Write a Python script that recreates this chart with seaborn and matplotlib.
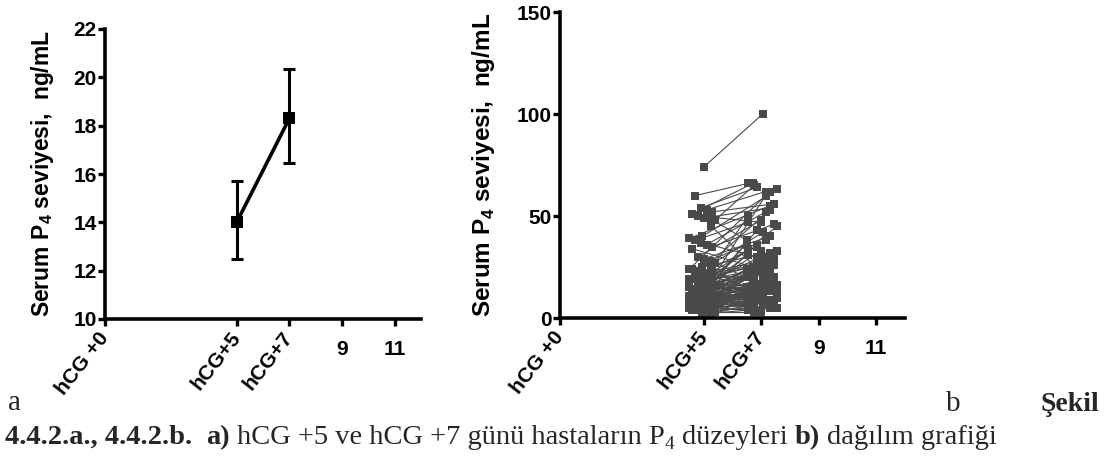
import matplotlib
matplotlib.use("Agg")
import matplotlib.pyplot as plt
import matplotlib.transforms as mtransforms
import numpy as np
import pandas as pd
import seaborn as sns

# ---------------- data ----------------
days = [5, 7]
tick_pos = [0, 5, 7, 9, 11]
tick_labels = ["hCG +0", "hCG+5", "hCG+7", "9", "11"]

# panel a: mean with error bars
mean_a = [14.0, 18.3]
err_low_a = [12.5, 16.45]
err_high_a = [15.7, 20.35]

# panel b: individual patients (hCG+5 -> hCG+7)
p4_day5 = [74, 60, 54, 53, 52, 51, 50, 49, 49, 48, 45, 40, 39, 38, 37, 36, 35, 34, 30, 29,
           28, 27, 26, 25, 24, 23, 22, 21, 20, 19,
           18, 17, 17, 16, 16, 15, 15, 14, 14, 13, 13, 12, 12, 12, 11, 11, 11, 10, 10, 10,
           10, 9, 9, 9, 9, 8, 8, 8, 8, 8,
           7, 7, 7, 7, 7, 6, 6, 6, 6, 6, 5, 5, 5, 5, 5, 4, 4, 4, 4, 3,
           3, 3, 2, 2, 19, 20, 21, 22, 23, 24,
           13, 14, 15, 16, 17, 18, 11, 12, 10, 9, 8, 7, 6, 5, 4, 3, 2, 16, 18, 13,
           11, 15, 12, 9, 6, 20, 14, 7, 5, 10]
p4_day7 = [100, 66, 64, 62, 56, 66, 47, 54, 38, 65, 22, 63, 55, 47, 30, 52, 46, 25, 48, 40,
           36, 18, 42, 33, 62, 15, 35, 38, 28, 12,
           24, 32, 10, 20, 27, 14, 22, 34, 9, 19, 26, 17, 23, 8, 15, 21, 30, 12, 18, 6,
           25, 14, 20, 11, 16, 13, 22, 7, 19, 10,
           15, 12, 24, 9, 17, 11, 14, 5, 20, 8, 13, 10, 16, 4, 12, 9, 18, 7, 11, 6,
           14, 3, 8, 5, 21, 13, 26, 17, 29, 11,
           33, 16, 37, 10, 22, 14, 28, 31, 36, 26, 29, 21, 23, 19, 15, 10, 12, 45, 53, 50,
           43, 60, 9, 5, 3, 27, 24, 13, 7, 16]

ylabel_text = r"Serum P$_\mathsf{4}$ seviyesi,  ng/mL"

# ---------------- style ----------------
sns.set_theme(style="ticks")
plt.rcParams["font.family"] = ["Liberation Sans", "DejaVu Sans"]
plt.rcParams["mathtext.fontset"] = "custom"
plt.rcParams["mathtext.sf"] = "Liberation Sans:bold"
plt.rcParams["mathtext.rm"] = "Liberation Serif"

W, H = 1118, 475
fig = plt.figure(figsize=(W / 100, H / 100), dpi=100)
fig.patch.set_facecolor("white")

ax_a = fig.add_axes([105 / W, 1 - 319 / H, 316 / W, 290 / H])
ax_b = fig.add_axes([560 / W, 1 - 318 / H, 345 / W, 306 / H])

# ---------------- panel a ----------------
df_a = pd.DataFrame({"day": days, "mean": mean_a})
sns.lineplot(data=df_a, x="day", y="mean", ax=ax_a, color="black", lw=2.6,
             marker="s", markersize=8, markeredgewidth=0, legend=False)
yerr = np.array([[m - l for m, l in zip(mean_a, err_low_a)],
                 [h - m for h, m in zip(err_high_a, mean_a)]])
ax_a.errorbar(days, mean_a, yerr=yerr, fmt="none", ecolor="black",
              elinewidth=2.2, capsize=4.5, capthick=2.2, zorder=3)
ax_a.set_xlim(0, 12)
ax_a.set_ylim(10, 22)
ax_a.set_yticks(range(10, 23, 2))

# ---------------- panel b ----------------
off5 = [-0.5, -0.3, -0.1, 0.1, 0.3, -0.4, -0.2, 0.0, 0.2, 0.4, 0.25, -0.05]
off7 = [0.3, -0.45, -0.15, 0.15, 0.45, -0.3, 0.0, 0.3, -0.5, -0.25, 0.05, 0.55]
rows = []
for i, (v5, v7) in enumerate(zip(p4_day5, p4_day7)):
    o5 = 0.0 if i == 0 else off5[i % len(off5)]
    o7 = 0.05 if i == 0 else off7[i % len(off7)]
    rows.append({"patient": i, "x": days[0] + o5, "value": v5})
    rows.append({"patient": i, "x": days[1] + o7, "value": v7})
df_b = pd.DataFrame(rows)
sns.lineplot(data=df_b, x="x", y="value", units="patient", estimator=None,
             sort=False, ax=ax_b, color="#4a4a4a", lw=0.8, marker="s",
             markersize=6, markeredgewidth=0, legend=False)
ax_b.set_xlim(0, 12)
ax_b.set_ylim(0, 150)
ax_b.set_yticks([0, 50, 100, 150])

# ---------------- common axis styling ----------------
for ax, ylab_size, ylab_x in [(ax_a, 16.5, -0.155), (ax_b, 17.5, -0.182)]:
    sns.despine(ax=ax)
    ax.set_facecolor("white")
    for s in ("left", "bottom"):
        ax.spines[s].set_linewidth(2.6)
        ax.spines[s].set_color("black")
    ax.tick_params(axis="both", which="major", width=2.4, length=5,
                   color="black", direction="out", labelcolor="black")
    ax.tick_params(axis="y", pad=1)
    ax.tick_params(axis="x", pad=6)
    ax.set_xticks(tick_pos)
    ax.set_xticklabels(tick_labels)
    for lbl in ax.get_yticklabels():
        lbl.set_fontsize(15)
        lbl.set_fontweight("bold")
    for lbl in ax.get_xticklabels():
        lbl.set_fontsize(15)
        lbl.set_fontweight("bold")
        if lbl.get_text() in ("9", "11"):
            lbl.set_rotation(0)
            lbl.set_ha("center")
            lbl.set_va("top")
            lbl.set_transform(lbl.get_transform() +
                              mtransforms.ScaledTranslation(0, -6 / 100, fig.dpi_scale_trans))
        else:
            lbl.set_rotation(52)
            lbl.set_rotation_mode("anchor")
            lbl.set_ha("right")
            lbl.set_va("center")
    ax.set_xlabel("")
    ax.set_ylabel(ylabel_text, fontsize=ylab_size, fontweight="bold", color="black")
    ax.yaxis.set_label_coords(ylab_x, 0.5)

# ---------------- captions ----------------
serif = "Liberation Serif"
fig.canvas.draw()
renderer = fig.canvas.get_renderer()


def text_width(s, size, weight):
    t = fig.text(0, 0, s, fontsize=size, fontweight=weight, family=serif)
    w = t.get_window_extent(renderer).width
    t.remove()
    return w


fig.text(8 / W, 1 - 410 / H, "a", fontsize=21, family=serif, va="baseline")
fig.text(946 / W, 1 - 411 / H, "b", fontsize=21, family=serif, va="baseline")
fig.text(1040 / W, 1 - 411 / H, "Şekil", fontsize=20, fontweight="bold",
         family=serif, va="baseline")

cap_size = 20.5
segments = [
    ("4.4.2.a., 4.4.2.b.", "bold", cap_size, 0, 2),
    ("a)", "bold", cap_size, 0, 1),
    ("hCG +5 ve hCG +7 günü hastaların P", "normal", cap_size, 0, 0),
    ("4", "normal", cap_size * 0.68, -5, 1),
    ("düzeyleri", "normal", cap_size, 0, 1),
    ("b)", "bold", cap_size, 0, 1),
    ("dağılım grafiği", "normal", cap_size, 0, 0),
]
space_w = text_width("a a", cap_size, "normal") - text_width("aa", cap_size, "normal")
x_px = 5
base_y = 444
for s, weight, size, dy, n_sp in segments:
    fig.text(x_px / W, 1 - (base_y - dy) / H, s, fontsize=size, fontweight=weight,
             family=serif, va="baseline")
    x_px += text_width("x" + s + "x", size, weight) - text_width("xx", size, weight)
    x_px += n_sp * space_w

fig.savefig("out.png", dpi=100, facecolor="white")
